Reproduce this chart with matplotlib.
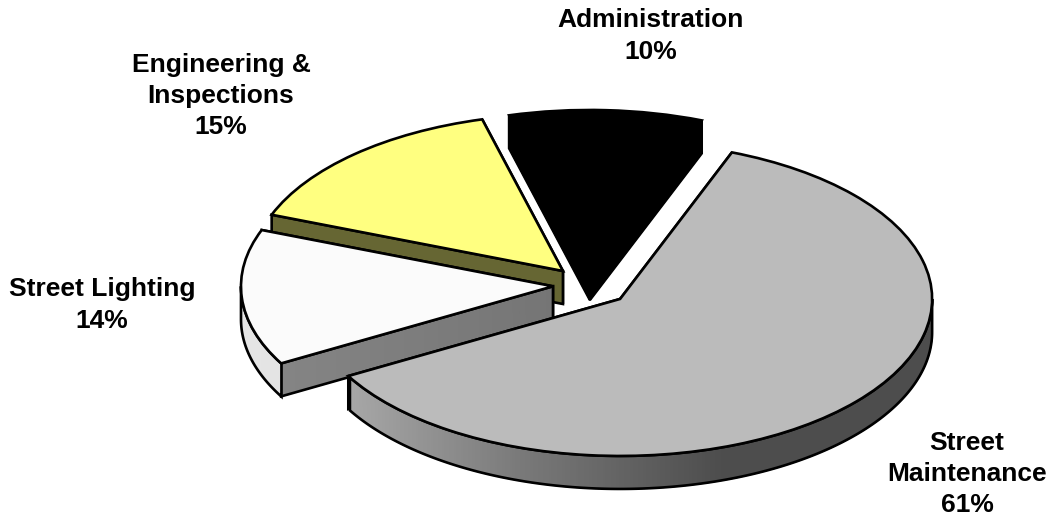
import numpy as np
import matplotlib
matplotlib.use('Agg')
import matplotlib.pyplot as plt
from matplotlib.collections import PolyCollection
from matplotlib.patches import Polygon

# Budget shares, clockwise from the top right
labels = ['Street\nMaintenance\n61%', 'Street Lighting\n14%', 'Engineering &\nInspections\n15%', 'Administration\n10%']
values = [61, 14, 15, 10]
explode = [0.136, 0.1125, 0.12, 0.115]
top_colors = ['#BBBBBB', '#FBFBFB', '#FFFF80', '#000000']
# grey level of the side wall, from left to right
arc_grey = [[0.70, 0.48, 0.30, 0.30], [0.90, 0.86, 0.86, 0.86], [0.40, 0.40, 0.40, 0.40], [0, 0, 0, 0]]
edge_grey = [[0.5, 0.5], [0.52, 0.46], [0.40, 0.40], [0, 0]]
olive = '#666633'
label_xy = [(967, 474), (102, 305), (221, 96), (651, 36)]

W, H = 1055, 519
cx, cy = 588, 285   # pie centre in pixels
rx, ry = 312, 157   # size of the flattened pie
depth = 33 / ry
lw = 1.9

fig = plt.figure(figsize=(W / 100, H / 100), dpi=100)
ax = fig.add_axes([0, 0, 1, 1])

wedges, _ = ax.pie(values, explode=explode, colors=top_colors, startangle=69.0, counterclock=False,
                   wedgeprops={'edgecolor': 'black', 'linewidth': lw})
# squash the pie to get the tilted look
ax.set_aspect('auto')
ax.set_xlim(-cx / rx, (W - cx) / rx)
ax.set_ylim((cy - H) / ry, cy / ry)
ax.axis('off')


def grey_at(x, stops):
    xs = np.linspace(-1, 1, len(stops))
    return np.interp(x, xs, stops)


for k, w in enumerate(wedges):
    x0, y0 = w.center
    # back slices first, the big one ends on top
    z = 10 + (3 - k) * 3
    w.set_zorder(z + 2)
    is_yellow = k == 2

    # flat cut faces
    for th in [w.theta1, w.theta2]:
        ex = x0 + np.cos(np.radians(th))
        ey = y0 + np.sin(np.radians(th))
        n = 40
        t = np.linspace(0, 1, n + 1)
        xs = x0 + (ex - x0) * t
        ys = y0 + (ey - y0) * t
        polys = [[(xs[i], ys[i]), (xs[i + 1], ys[i + 1]), (xs[i + 1], ys[i + 1] - depth), (xs[i], ys[i] - depth)] for i in range(n)]
        g = np.interp(t[:-1], [0, 1], edge_grey[k][::-1])
        cols = [olive if is_yellow else (v, v, v) for v in g]
        ax.add_collection(PolyCollection(polys, facecolors=cols, edgecolors='face', linewidths=1, zorder=z))
        outline = [(x0, y0), (ex, ey), (ex, ey - depth), (x0, y0 - depth)]
        ax.add_patch(Polygon(outline, closed=True, fill=False, edgecolor='black', linewidth=lw, zorder=z))

    # outer wall, front part only
    th = np.radians(np.arange(np.ceil(w.theta1), w.theta2 + 0.5, 0.5))
    th = th[np.sin(th) <= 0]
    if len(th) > 1:
        xs = x0 + np.cos(th)
        ys = y0 + np.sin(th)
        polys = [[(xs[i], ys[i]), (xs[i + 1], ys[i + 1]), (xs[i + 1], ys[i + 1] - depth), (xs[i], ys[i] - depth)] for i in range(len(th) - 1)]
        g = grey_at(np.cos(th[:-1]), arc_grey[k])
        cols = [(v, v, v) for v in g]
        ax.add_collection(PolyCollection(polys, facecolors=cols, edgecolors='face', linewidths=1, zorder=z + 1))
        outline = np.vstack([np.column_stack([xs, ys]), np.column_stack([xs, ys - depth])[::-1]])
        ax.add_patch(Polygon(outline, closed=True, fill=False, edgecolor='black', linewidth=lw, zorder=z + 1))

for lab, (px, py) in zip(labels, label_xy):
    fig.text(px / W, 1 - py / H, lab, ha='center', va='center', family='Liberation Sans', weight='bold',
             fontsize=19, linespacing=1.38, color='black', zorder=50)

fig.savefig('out.png', dpi=100)
